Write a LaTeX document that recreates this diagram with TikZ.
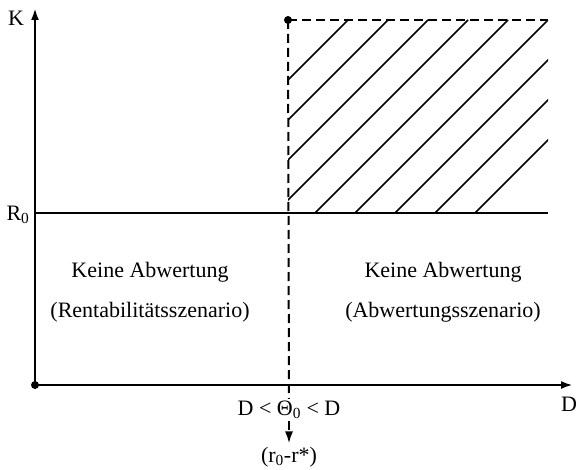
\documentclass[tikz,border=0pt]{standalone}
\usepackage{fontspec}
\setmainfont{Liberation Serif}
\usetikzlibrary{arrows.meta, positioning}

\begin{document}
\begin{tikzpicture}[
    x=1pt, y=-1pt,
    >={Latex[length=12pt,width=8pt]},
    font=\fontsize{22}{26}\selectfont,
    axis/.style={line width=2.4pt},
    border/.style={line width=2pt, dash pattern=on 9pt off 5pt},
    hatch/.style={line width=1.6pt},
    dot/.style={circle, fill, inner sep=0pt, minimum size=8pt},
    region/.style={align=center, font=\fontsize{22}{40}\selectfont}
]
    \useasboundingbox (0,0) rectangle (577,470);

    % Corner values
    \def\xl{35}
    \def\xm{288}
    \def\xr{548}
    \def\yt{20}
    \def\yr{213}
    \def\yb{385}

    % Points
    \node[dot] (origin) at (\xl,\yb) {};
    \node[dot] (top) at (\xm,\yt) {};
    \coordinate (xend) at (573,\yb);
    \coordinate (yend) at (\xl,8);
    \coordinate (rleft) at (\xl,\yr);
    \coordinate (rright) at (\xr,\yr);
    \coordinate (topright) at (\xr,\yt);

    % Hatched area
    \begin{scope}
        \clip (\xm,\yt) rectangle (\xr,\yr);
        \foreach \c in {368,408,...,688}
            \draw[hatch] (\c-\yr,\yr) -- (\c-\yt,\yt);
    \end{scope}

    % Labels
    \node (klabel) at (16,18) {K};
    \node (rlabel) at (18,215) {R\textsubscript{0}};
    \node (dlabel) at (569,404) {D};
    \node[fill=white, inner sep=2pt] (theta) at (289,410) {D < Θ\textsubscript{0} < D};
    \node (rdiff) at (289,457) {(r\textsubscript{0}-r*)};

    \node[region] (left) at (150,292) {Keine Abwertung\\(Rentabilitätsszenario)};
    \node[region] (right) at (443,292) {Keine Abwertung\\(Abwertungsszenario)};

    % Axes
    \draw[axis, ->] (origin.center) -- (xend);
    \draw[axis, ->] (origin.center) -- (yend);
    \draw[line width=2pt] (rleft) -- (rright);

    % Dashed border
    \draw[border] (top.center) -- (topright);
    \draw[border] (top.center) -- (theta);
    \draw[border, ->] (theta) -- (rdiff);

\end{tikzpicture}
\end{document}
